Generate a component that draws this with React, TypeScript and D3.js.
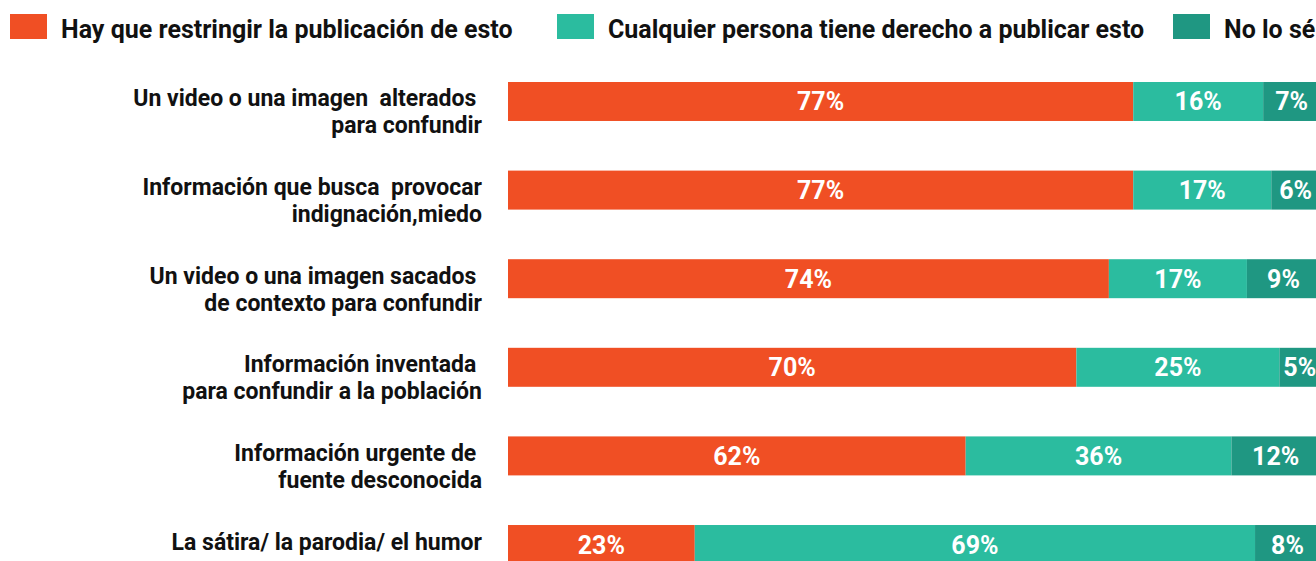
import React from "react";
import * as d3 from "d3";

// ---- data ----
const categories: string[][] = [
  ["Un video o una imagen  alterados ", "para confundir"],
  ["Información que busca  provocar", "indignación,miedo"],
  ["Un video o una imagen sacados ", "de contexto para confundir"],
  ["Información inventada ", "para confundir a la población"],
  ["Información urgente de ", "fuente desconocida"],
  ["La sátira/ la parodia/ el humor"],
];
const seriesNames = [
  "Hay que restringir la publicación de esto",
  "Cualquier persona tiene derecho a publicar esto",
  "No lo sé",
];
const restringir = [77, 77, 74, 70, 62, 23];
const derecho = [16, 17, 17, 25, 36, 69];
const noSe = [7, 6, 9, 5, 12, 8];

const colors = ["#F04F24", "#2BBC9F", "#1F9782"];

const W = 1316;
const H = 561;
const FONT = "Roboto, 'Noto Sans', sans-serif";

export default function App() {
  const keys = ["a", "b", "c"];
  const rows = categories.map((_, i) => ({
    idx: i,
    a: restringir[i],
    b: derecho[i],
    c: noSe[i],
  }));
  const stacked = d3
    .stack<any>()
    .keys(keys)
    .offset(d3.stackOffsetExpand)(rows);

  const x = d3.scaleLinear().domain([0, 1]).range([508, 1320]);
  const y = d3
    .scaleBand<number>()
    .domain(rows.map((r) => r.idx))
    .range([82, 564])
    .paddingInner(0.56)
    .paddingOuter(0);

  const rawVals = [restringir, derecho, noSe];
  const legendX = [10, 557, 1173];

  return (
    <svg
      width={W}
      height={H}
      style={{ position: "absolute", left: 0, top: 0, display: "block" }}
      fontFamily={FONT}
    >
      <rect width={W} height={H} fill="#fff" />
      {/* legend */}
      {seriesNames.map((name, i) => (
        <g key={name} transform={`translate(${legendX[i]},14)`}>
          <rect width={37} height={25} fill={colors[i]} />
          <text x={51} y={24} fontSize={25} fontWeight={700} fill="#111">
            {name}
          </text>
        </g>
      ))}
      {/* bars */}
      {stacked.map((s, si) => (
        <g key={s.key} fill={colors[si]}>
          {s.map((d, di) => (
            <rect
              key={di}
              x={x(d[0])}
              y={y(di)!}
              width={x(d[1]) - x(d[0])}
              height={y.bandwidth()}
            />
          ))}
        </g>
      ))}
      {/* value labels */}
      {stacked.map((s, si) => (
        <g key={"l" + s.key}>
          {s.map((d, di) => (
            <text
              key={di}
              x={(x(d[0]) + x(d[1])) / 2}
              y={y(di)! + y.bandwidth() / 2}
              dy="0.36em"
              textAnchor="middle"
              fontSize={25}
              fontWeight={700}
              fill="#fff"
            >
              {rawVals[si][di]}%
            </text>
          ))}
        </g>
      ))}
      {/* category labels */}
      {categories.map((lines, i) => (
        <text
          key={i}
          textAnchor="end"
          fontSize={23}
          fontWeight={700}
          fill="#111"
          style={{ whiteSpace: "pre" }}
        >
          {lines.map((ln, li) => (
            <tspan
              key={li}
              x={482}
              y={y(i)! + y.bandwidth() / 2 + 5 + li * 27}
            >
              {ln}
            </tspan>
          ))}
        </text>
      ))}
    </svg>
  );
}
